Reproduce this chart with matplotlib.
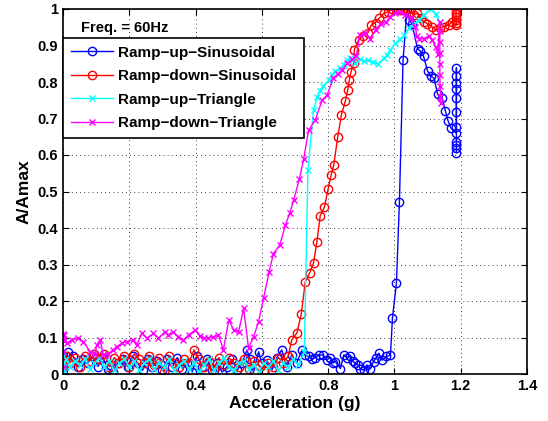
import matplotlib
matplotlib.use("Agg")
import matplotlib.pyplot as plt

plt.rcParams['font.family'] = ['Liberation Sans', 'DejaVu Sans']
plt.rcParams['font.weight'] = 'bold'

# Ramp-up-Sinusoidal
x_up_sin = [0, 0, 0, 0.005, 0.015, 0.03, 0.045, 0.06, 0.075, 0.09, 0.105, 0.12, 0.135, 0.15,
            0.165, 0.18, 0.195, 0.21, 0.225, 0.24, 0.255, 0.27, 0.285, 0.30, 0.315, 0.33, 0.345,
            0.36, 0.375, 0.39, 0.405, 0.42, 0.435, 0.45, 0.465, 0.48, 0.495, 0.51, 0.525, 0.54,
            0.555, 0.565, 0.575, 0.59, 0.60, 0.615, 0.63, 0.645, 0.66, 0.675, 0.69, 0.705, 0.721,
            0.731, 0.741, 0.751, 0.761, 0.771, 0.784, 0.796, 0.806, 0.815, 0.822, 0.837, 0.847,
            0.857, 0.866, 0.875, 0.882, 0.89, 0.897, 0.907, 0.917, 0.927, 0.937, 0.945, 0.953,
            0.963, 0.976, 0.988, 0.994, 1.006, 1.015, 1.026, 1.038, 1.045, 1.053, 1.07, 1.078,
            1.088, 1.10, 1.11, 1.12, 1.13, 1.144, 1.154, 1.162, 1.171,
            1.187, 1.187, 1.187, 1.187, 1.187, 1.187, 1.187, 1.187, 1.187, 1.187, 1.187, 1.187]
y_up_sin = [0.05, 0.03, 0.01, 0.04, 0.06, 0.05, 0.02, 0.04, 0.03, 0.05, 0.02, 0.045, 0.015, 0.005,
            0.03, 0.04, 0.02, 0.05, 0.03, 0.01, 0.04, 0.02, 0.035, 0.01, 0.04, 0.02, 0.045,
            0.015, 0.03, 0.005, 0.05, 0.02, 0.04, 0.01, 0.03, 0.005, 0.02, 0.04, 0.01, 0.03,
            0.066, 0.04, 0.005, 0.061, 0.03, 0.038, 0.01, 0.045, 0.066, 0.02, 0.052, 0.03, 0.066,
            0.052, 0.048, 0.04, 0.045, 0.052, 0.052, 0.038, 0.045, 0.03, 0.034, 0.015, 0.052,
            0.045, 0.048, 0.035, 0.029, 0.025, 0.015, 0.01, 0.025, 0.015, 0.034, 0.045, 0.057,
            0.038, 0.048, 0.052, 0.153, 0.249, 0.47, 0.86, 1.0, 0.97, 0.96, 0.89, 0.885,
            0.87, 0.83, 0.816, 0.81, 0.767, 0.756, 0.72, 0.693, 0.673,
            0.66, 0.677, 0.718, 0.756, 0.78, 0.797, 0.816, 0.838, 0.636, 0.627, 0.619, 0.606]

# Ramp-down-Sinusoidal
x_down_sin = [0, 0, 0.01, 0.02, 0.035, 0.05, 0.065, 0.08, 0.095, 0.11, 0.125, 0.14, 0.155, 0.17,
              0.185, 0.2, 0.215, 0.23, 0.245, 0.26, 0.275, 0.29, 0.305, 0.32, 0.335, 0.35, 0.365,
              0.38, 0.395, 0.41, 0.425, 0.44, 0.455, 0.47, 0.485, 0.5, 0.515, 0.53, 0.545, 0.56,
              0.575, 0.59, 0.605, 0.62, 0.635, 0.65, 0.665, 0.68, 0.69, 0.706, 0.719, 0.731, 0.744,
              0.756, 0.766, 0.776, 0.789, 0.80, 0.809, 0.817, 0.829, 0.84, 0.852, 0.859, 0.864,
              0.869, 0.877, 0.879, 0.892, 0.904, 0.92, 0.93, 0.943, 0.953, 0.968, 0.98, 0.993,
              1.008, 1.018, 1.033, 1.048, 1.058, 1.068, 1.079, 1.089, 1.099, 1.114, 1.124, 1.137,
              1.149, 1.164, 1.174, 1.186, 1.186, 1.186, 1.186, 1.186, 1.186, 1.186]
y_down_sin = [0.02, 0.04, 0.05, 0.03, 0.045, 0.02, 0.05, 0.035, 0.055, 0.04, 0.055, 0.02, 0.045, 0.03,
              0.05, 0.02, 0.055, 0.04, 0.03, 0.05, 0.025, 0.045, 0.005, 0.05, 0.03, 0.02, 0.04,
              0.03, 0.066, 0.04, 0.02, 0.035, 0.015, 0.045, 0.025, 0.045, 0.03, 0.02, 0.04, 0.015,
              0.035, 0.025, 0.01, 0.03, 0.02, 0.045, 0.03, 0.05, 0.093, 0.113, 0.164, 0.253, 0.276,
              0.305, 0.362, 0.433, 0.458, 0.507, 0.545, 0.573, 0.65, 0.71, 0.748, 0.778, 0.805,
              0.828, 0.851, 0.889, 0.915, 0.927, 0.935, 0.956, 0.963, 0.974, 0.988, 0.992, 0.999,
              1.0, 0.997, 1.0, 0.992, 0.984, 0.988, 0.975, 0.965, 0.96, 0.951, 0.942, 0.947,
              0.952, 0.956, 0.965, 0.955, 0.962, 0.97, 0.978, 0.986, 0.993, 1.0]

# Ramp-up-Triangle
x_up_tri = [0, 0, 0, 0, 0, 0.01, 0.02, 0.035, 0.05, 0.065, 0.08, 0.095, 0.11, 0.125, 0.14, 0.155,
            0.17, 0.185, 0.2, 0.215, 0.23, 0.245, 0.26, 0.275, 0.29, 0.305, 0.32, 0.335, 0.35,
            0.365, 0.38, 0.395, 0.41, 0.425, 0.44, 0.455, 0.47, 0.485, 0.5, 0.515, 0.53, 0.545,
            0.56, 0.575, 0.59, 0.605, 0.62, 0.635, 0.65, 0.665, 0.68, 0.695, 0.71, 0.728,
            0.739, 0.756, 0.767, 0.775, 0.785, 0.802, 0.812, 0.822, 0.835, 0.847, 0.856, 0.865,
            0.874, 0.882, 0.897, 0.908, 0.919, 0.936, 0.95, 0.968, 0.978, 0.988, 1.003, 1.018,
            1.03, 1.043, 1.058, 1.075, 1.089, 1.109, 1.124, 1.137]
y_up_tri = [0.0, 0.02, 0.05, 0.03, 0.01, 0.04, 0.02, 0.035, 0.025, 0.04, 0.015, 0.03, 0.045, 0.02,
            0.035, 0.01, 0.03, 0.04, 0.02, 0.035, 0.01, 0.03, 0.04, 0.015, 0.03, 0.02, 0.04, 0.01,
            0.025, 0.035, 0.015, 0.03, 0.005, 0.025, 0.04, 0.01, 0.03, 0.045, 0.02, 0.01, 0.03,
            0.035, 0.015, 0.025, 0.005, 0.03, 0.02, 0.035, 0.01, 0.03, 0.02, 0.04, 0.025, 0.06,
            0.559, 0.723, 0.76, 0.776, 0.79, 0.805, 0.82, 0.83, 0.837, 0.847, 0.86, 0.865,
            0.86, 0.851, 0.862, 0.858, 0.86, 0.856, 0.849, 0.865, 0.875, 0.888, 0.906, 0.919,
            0.929, 0.947, 0.96, 0.97, 0.984, 1.0, 0.985, 0.965]

# Ramp-down-Triangle
x_down_tri = [0, 0, 0, 0.002, 0.004, 0.011, 0.026, 0.046, 0.061, 0.082, 0.097, 0.102, 0.112, 0.122,
              0.137, 0.15, 0.162, 0.177, 0.192, 0.212, 0.222, 0.238, 0.253, 0.273, 0.288, 0.308,
              0.318, 0.333, 0.348, 0.363, 0.379, 0.399, 0.414, 0.424, 0.439, 0.454, 0.469, 0.484,
              0.5, 0.515, 0.53, 0.545, 0.56, 0.575, 0.59, 0.605, 0.622, 0.635, 0.654, 0.671,
              0.684, 0.696, 0.713, 0.726, 0.741, 0.761, 0.782, 0.797, 0.815, 0.829, 0.842, 0.857,
              0.872, 0.885, 0.895, 0.912, 0.927, 0.943, 0.958, 0.976, 0.988, 1.003, 1.018, 1.033,
              1.05, 1.063, 1.068, 1.074, 1.089, 1.104, 1.114, 1.124, 1.131, 1.136, 1.137, 1.137,
              1.137, 1.137, 1.137, 1.138, 1.139, 1.14]
y_down_tri = [0.02, 0.06, 0.11, 0.09, 0.107, 0.084, 0.093, 0.098, 0.089, 0.061, 0.056, 0.079, 0.093,
              0.052, 0.056, 0.065, 0.075, 0.084, 0.089, 0.093, 0.079, 0.111, 0.098, 0.111, 0.098,
              0.116, 0.107, 0.116, 0.102, 0.093, 0.107, 0.121, 0.104, 0.098, 0.1, 0.102, 0.107,
              0.066, 0.148, 0.121, 0.116, 0.18, 0.07, 0.102, 0.143, 0.207, 0.28, 0.33, 0.353,
              0.408, 0.44, 0.477, 0.533, 0.588, 0.668, 0.695, 0.751, 0.764, 0.81, 0.822, 0.833,
              0.851, 0.862, 0.87, 0.929, 0.933, 0.919, 0.942, 0.96, 0.965, 0.979, 0.988, 0.992,
              0.984, 0.975, 0.951, 0.925, 0.917, 0.919, 0.925, 0.916, 0.897, 0.878, 0.965, 0.94,
              0.91, 0.88, 0.85, 0.82, 0.79, 0.76, 0.742]

x_ticks = [0, 0.2, 0.4, 0.6, 0.8, 1.0, 1.2, 1.4]
x_tick_labels = ['0', '0.2', '0.4', '0.6', '0.8', '1', '1.2', '1.4']
y_ticks = [0, 0.1, 0.2, 0.3, 0.4, 0.5, 0.6, 0.7, 0.8, 0.9, 1.0]
y_tick_labels = ['0', '0.1', '0.2', '0.3', '0.4', '0.5', '0.6', '0.7', '0.8', '0.9', '1']

fig = plt.figure(figsize=(5.48, 4.21), dpi=100)
ax = fig.add_axes([63 / 548, 47 / 421, 464 / 548, 365 / 421])

ax.plot(x_up_sin, y_up_sin, color='#0000ff', marker='o', mfc='none', ms=6, lw=1,
        label='Ramp\u2212up\u2212Sinusoidal')
ax.plot(x_down_sin, y_down_sin, color='#ff0000', marker='o', mfc='none', ms=6, lw=1,
        label='Ramp\u2212down\u2212Sinusoidal')
ax.plot(x_up_tri, y_up_tri, color='#00ffff', marker='x', ms=5, lw=1,
        label='Ramp\u2212up\u2212Triangle')
ax.plot(x_down_tri, y_down_tri, color='#ff00ff', marker='x', ms=5, lw=1,
        label='Ramp\u2212down\u2212Triangle')

ax.set_xlim(0, 1.4)
ax.set_ylim(0, 1)
ax.set_xticks(x_ticks)
ax.set_xticklabels(x_tick_labels)
ax.set_yticks(y_ticks)
ax.set_yticklabels(y_tick_labels)
ax.tick_params(direction='in', top=True, right=True, length=4, labelsize=10.5)
for lbl in ax.get_xticklabels() + ax.get_yticklabels():
    lbl.set_fontweight('bold')
ax.grid(True, color='k', linestyle=(0, (1, 4)), linewidth=0.6)
for s in ax.spines.values():
    s.set_linewidth(1.2)

ax.set_xlabel('Acceleration (g)', fontsize=12.5, fontweight='bold', labelpad=2)
ax.set_ylabel('A/Amax', fontsize=12.5, fontweight='bold', labelpad=4)

ax.text(0.038, 0.948, 'Freq. = 60Hz', transform=ax.transAxes, fontsize=10.5,
        fontweight='bold', va='center', ha='left')
leg = ax.legend(loc='upper left', bbox_to_anchor=(0, 0.92), borderaxespad=0,
                fancybox=False, framealpha=1, edgecolor='k', fontsize=11,
                handlelength=2.8, handletextpad=0.3, labelspacing=0.62,
                borderpad=0.5)
leg.get_frame().set_linewidth(1.2)
for t in leg.get_texts():
    t.set_fontweight('bold')

fig.savefig('out.png', dpi=100)
